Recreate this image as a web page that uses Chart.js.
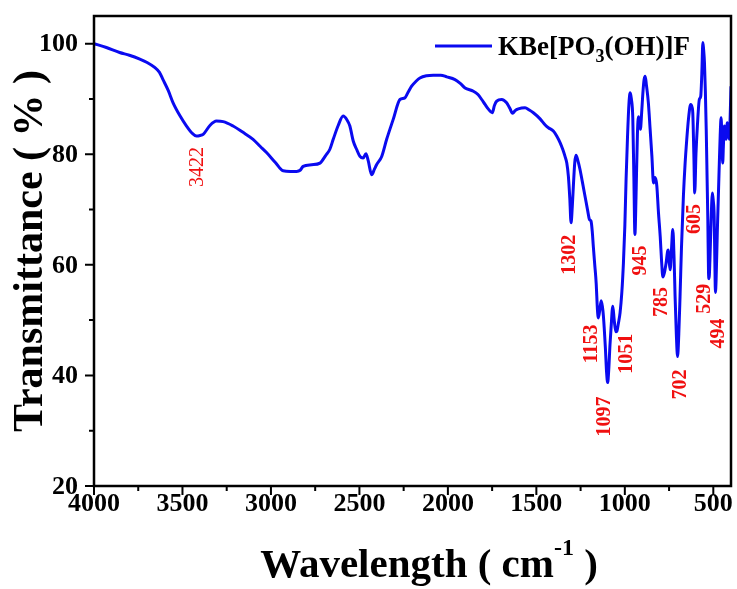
<!DOCTYPE html>
<html>
<head>
<meta charset="utf-8">
<script src="https://cdn.jsdelivr.net/npm/chart.js@4.4.1/dist/chart.umd.min.js"></script>
<style>
  html, body { margin: 0; padding: 0; background: #fff; }
  #wrap { width: 737px; height: 589px; position: relative; }
</style>
</head>
<body>
<div id="wrap"><canvas id="irChart"></canvas></div>
<script>
/* IR spectrum of KBe[PO3(OH)]F */

const SERIF = "'Times New Roman', 'Liberation Serif', serif";

// wavenumber (cm-1) and transmittance (%)
const wavenumbers = [
    4000, 3930, 3855, 3800, 3741, 3700, 3657, 3630, 3610, 3580, 3553, 3515, 3477, 3445, 3421, 3400, 3383, 3345, 3308, 3270,
    3214, 3160, 3101, 3060, 3025, 2975, 2931, 2890, 2855, 2835, 2818, 2770, 2723, 2690, 2667, 2648, 2620, 2592, 2570, 2554,
    2535, 2516, 2497, 2479, 2463, 2450, 2431, 2415, 2403, 2374, 2346, 2309, 2271, 2243, 2225, 2205, 2180, 2158, 2120, 2083,
    2040, 2007, 1960, 1930, 1903, 1856, 1830, 1809, 1790, 1772, 1749, 1737, 1724, 1696, 1668, 1650, 1634, 1620, 1602, 1564,
    1540, 1517, 1479, 1450, 1432, 1404, 1385, 1366, 1350, 1338, 1328, 1319, 1311, 1304, 1297, 1291, 1283, 1276, 1265, 1253,
    1240, 1225, 1210, 1200, 1191, 1184, 1178, 1170, 1162, 1155, 1150, 1143, 1134, 1127, 1121, 1110, 1103, 1097, 1091, 1084,
    1078, 1068, 1060, 1051, 1045, 1036, 1027, 1017, 1008, 1000, 993, 985, 977, 970, 963, 955, 949, 943, 937, 929,
    923, 917, 912, 905, 897, 891, 885, 878, 867, 857, 847, 838, 830, 823, 819, 810, 800, 792, 785, 777,
    767, 758, 754, 749, 744, 736, 729, 722, 716, 709, 702, 695, 688, 680, 669, 660, 650, 640, 628, 620,
    616, 610, 605, 598, 590, 579, 571, 565, 559, 555, 550, 545, 540, 535, 531, 527, 524, 519, 514, 505,
    500, 495, 491, 488, 484, 477, 466, 461, 456, 451, 447, 443, 438, 433, 428, 421, 416, 410, 405, 400
];
const transmittance = [
    100.0, 99.3, 98.4, 97.9, 97.2, 96.6, 95.7, 94.8, 93.5, 91.5, 89.3, 87.0, 85.1, 83.8, 83.3, 83.4, 83.6, 85.2, 86.0, 85.9,
    85.1, 84.0, 82.7, 81.4, 80.3, 78.5, 77.0, 76.9, 76.9, 77.1, 77.8, 78.1, 78.4, 79.8, 80.9, 82.7, 85.2, 86.9, 86.2, 85.1,
    82.4, 80.9, 79.6, 79.3, 80.1, 78.8, 76.3, 77.3, 78.1, 79.6, 82.7, 86.3, 89.9, 90.2, 91.2, 92.3, 93.2, 93.8, 94.2, 94.3,
    94.3, 94.0, 93.5, 92.8, 92.0, 91.4, 90.8, 89.9, 89.0, 88.2, 87.5, 88.8, 89.6, 89.9, 89.3, 88.3, 87.4, 87.9, 88.2, 88.4,
    88.0, 87.5, 86.4, 85.3, 84.8, 84.2, 83.3, 82.1, 80.8, 79.6, 78.4, 76.0, 72.0, 67.6, 70.5, 74.2, 78.5, 79.8, 78.8, 77.2,
    75.0, 72.4, 69.8, 68.2, 67.9, 66.0, 63.3, 60.0, 56.7, 52.0, 50.4, 51.5, 53.5, 52.5, 50.7, 45.0, 40.5, 38.7, 41.0, 45.5,
    48.5, 52.5, 50.0, 47.9, 48.0, 49.5, 51.3, 55.0, 60.3, 67.0, 75.4, 83.0, 89.0, 91.1, 90.0, 86.5, 76.0, 65.5, 72.0, 83.5,
    86.8, 86.0, 84.5, 87.5, 91.5, 93.5, 94.1, 92.5, 89.3, 84.5, 79.6, 74.8, 75.8, 75.2, 74.2, 69.5, 65.1, 60.5, 57.8, 58.5,
    60.3, 62.5, 62.7, 60.5, 59.1, 63.0, 66.4, 61.5, 54.3, 47.5, 43.4, 47.5, 54.3, 63.0, 72.4, 78.0, 82.7, 86.5, 89.0, 88.5,
    87.5, 80.0, 73.0, 80.0, 85.1, 89.9, 90.5, 94.5, 100.2, 99.0, 96.6, 91.5, 84.5, 75.5, 68.2, 58.5, 57.5, 61.0, 66.4, 73.0,
    71.5, 68.8, 60.0, 55.0, 57.5, 66.4, 78.4, 83.5, 86.6, 82.5, 78.4, 81.5, 85.1, 84.5, 82.7, 85.7, 84.5, 82.7, 86.5, 92.3
];

// marked absorption bands
const peakWn = [3422, 1302, 1153, 1097, 1051, 945, 785, 702, 605, 529, 494];
const peakT  = [83.3, 67.6, 50.4, 38.7, 47.9, 65.5, 57.8, 43.4, 73.0, 57.5, 55.0];

// axis ticks
const xMajor = 500, xMinor = 250;
const yMajor = 20, yMinor = 10;

/* ================================================================
   DECORATION (frame, ticks, labels, legend, titles)
   ================================================================ */
// pixel offsets of each peak label from its band minimum
const labelOffsets = [[0, 31], [-3, 32], [-7, 26], [-4, 34], [10, 22], [5, 26], [-2, 25], [2, 28], [-1, 26], [-4, 20], [3, 41]];

function tickValues(scale, step) {
    const out = [];
    for (let v = Math.ceil(scale.min / step) * step; v <= scale.max; v += step) out.push(v);
    return out;
}

const irDecor = {
    id: 'irDecor',
    afterDraw(chart) {
        const { ctx, chartArea: a, scales: { x, y } } = chart;
        ctx.save();

        // frame
        ctx.strokeStyle = '#000';
        ctx.lineWidth = 2.5;
        ctx.strokeRect(a.left, a.top, a.right - a.left, a.bottom - a.top);

        // outward ticks + tick labels on bottom and left
        ctx.lineWidth = 2;
        ctx.fillStyle = '#000';
        ctx.font = 'bold 26px ' + SERIF;
        ctx.beginPath();
        tickValues(x, xMinor).forEach(v => {
            const px = x.getPixelForValue(v);
            const major = v % xMajor === 0;
            ctx.moveTo(px, a.bottom); ctx.lineTo(px, a.bottom + (major ? 9 : 5));
            if (major) {
                ctx.textAlign = 'center'; ctx.textBaseline = 'middle';
                ctx.fillText(String(v), px, a.bottom + 18);
            }
        });
        tickValues(y, yMinor).forEach(v => {
            const py = y.getPixelForValue(v);
            const major = v % yMajor === 0;
            ctx.moveTo(a.left, py); ctx.lineTo(a.left - (major ? 9 : 5), py);
            if (major) {
                ctx.textAlign = 'right'; ctx.textBaseline = 'middle';
                ctx.fillText(String(v), a.left - 16, py + 1);
            }
        });
        ctx.stroke();

        // peak labels, rotated
        ctx.fillStyle = '#f01010';
        ctx.textAlign = 'center';
        ctx.textBaseline = 'middle';
        peakWn.forEach((wn, i) => {
            const px = x.getPixelForValue(wn) + labelOffsets[i][0];
            const py = y.getPixelForValue(peakT[i]) + labelOffsets[i][1];
            ctx.save();
            ctx.translate(px, py);
            ctx.rotate(-Math.PI / 2);
            ctx.font = (i === 0 ? '' : 'bold ') + '20px ' + SERIF;
            ctx.fillText(String(wn), 0, 1);
            ctx.restore();
        });

        // legend
        const ds = chart.data.datasets[0];
        ctx.strokeStyle = ds.borderColor;
        ctx.lineWidth = 3;
        ctx.beginPath();
        ctx.moveTo(435, 46); ctx.lineTo(492, 46);
        ctx.stroke();
        ctx.fillStyle = '#000';
        ctx.textAlign = 'left';
        ctx.textBaseline = 'alphabetic';
        let lx = 498;
        const big = 'bold 27px ' + SERIF, small = 'bold 18px ' + SERIF;
        [['KBe[PO', big, 55], ['3', small, 62], ['(OH)]F', big, 55]].forEach(([s, f, by]) => {
            ctx.font = f;
            ctx.fillText(s, lx, by);
            lx += ctx.measureText(s).width;
        });

        // x title with superscript
        const parts = [['Wavelength ( cm', 'bold 41px ' + SERIF, 577], ['-1', 'bold 24px ' + SERIF, 555], [' )', 'bold 41px ' + SERIF, 577]];
        let total = 0;
        parts.forEach(([s, f]) => { ctx.font = f; total += ctx.measureText(s).width; });
        let tx = 429 - total / 2;
        parts.forEach(([s, f, by]) => {
            ctx.font = f;
            ctx.fillText(s, tx, by);
            tx += ctx.measureText(s).width;
        });

        // y title
        ctx.save();
        ctx.translate(29, 251);
        ctx.rotate(-Math.PI / 2);
        ctx.font = 'bold 42px ' + SERIF;
        ctx.textAlign = 'center';
        ctx.textBaseline = 'middle';
        ctx.fillText('Transmittance ( % )', 0, 2);
        ctx.restore();

        ctx.restore();
    }
};

/* ================================================================
   CHART
   ================================================================ */
new Chart(document.getElementById('irChart'), {
    type: 'line',
    data: {
        datasets: [{
            label: 'KBe[PO3(OH)]F',
            data: wavenumbers.map((w, i) => ({ x: w, y: transmittance[i] })),
            borderColor: '#0a0af0',
            borderWidth: 3,
            pointRadius: 0,
            cubicInterpolationMode: 'monotone',
            fill: false
        }]
    },
    options: {
        responsive: true,
        maintainAspectRatio: false,
        animation: false,
        devicePixelRatio: 1,
        layout: { padding: { top: 16, right: 6, left: 0, bottom: 0 } },
        plugins: { legend: { display: false }, tooltip: { enabled: false } },
        scales: {
            x: {
                type: 'linear',
                reverse: true,
                min: 400,
                max: 4000,
                afterFit: s => { s.height = 103; },
                ticks: { stepSize: xMinor, display: false },
                grid: { display: false, drawTicks: false },
                border: { display: false }
            },
            y: {
                min: 20,
                max: 105,
                afterFit: s => { s.width = 94; },
                ticks: { stepSize: yMinor, display: false },
                grid: { display: false, drawTicks: false },
                border: { display: false }
            }
        }
    },
    plugins: [irDecor]
});
</script>
</body>
</html>
